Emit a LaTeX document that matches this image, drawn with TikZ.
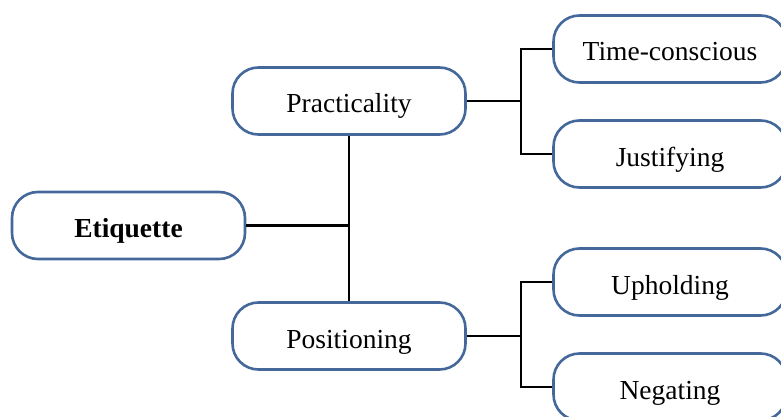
\documentclass[tikz,border=0pt]{standalone}
\usepackage{fontspec}
\setmainfont{Liberation Serif}
\definecolor{boxblue}{HTML}{44689A}
\begin{document}
\begin{tikzpicture}[x=1pt,y=-1pt,
  box/.style={draw=boxblue, line width=2.6pt, rounded corners=26pt, fill=white,
    minimum width=233pt, minimum height=67pt, inner sep=0pt,
    text height=24pt, text depth=0pt,
    font=\fontsize{27.5}{30}\selectfont},
  conn/.style={draw=black, line width=2.8pt}]
\useasboundingbox (0,0) rectangle (781,417);
\clip (0,0) rectangle (781,417);
\node[box, font=\fontsize{27.5}{30}\selectfont\bfseries] (eti) at (128.5,225.5) {Etiquette};
\node[box] (prac) at (349,101) {Practicality};
\node[box] (pos) at (349,336) {Positioning};
\node[box] (tc) at (670,49) {Time-conscious};
\node[box] (jus) at (670,154) {Justifying};
\node[box] (uph) at (670,282) {Upholding};
\node[box] (neg) at (670,387) {Negating};
\coordinate (b1) at (521,101);
\coordinate (b2) at (521,336);
\draw[conn] (prac.south) -- (pos.north);
\draw[conn] (eti.east) -- (prac.south |- eti.east);
\draw[conn] (prac.east) -- (b1);
\draw[conn] (tc.west) -| (b1) |- (jus.west);
\draw[conn] (pos.east) -- (b2);
\draw[conn] (uph.west) -| (b2) |- (neg.west);
\end{tikzpicture}
\end{document}
